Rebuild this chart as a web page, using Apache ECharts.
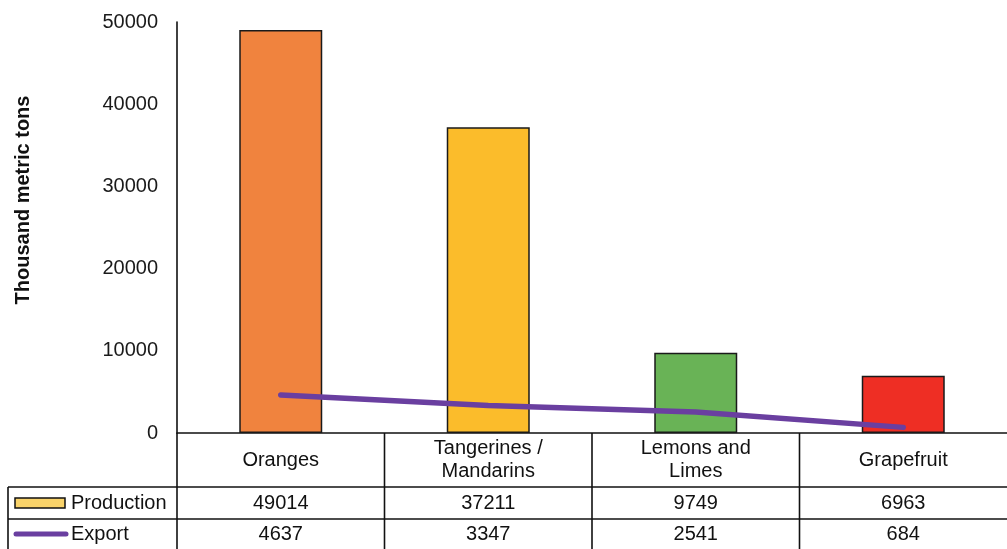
<!DOCTYPE html>
<html>
<head>
<meta charset="utf-8">
<script src="https://cdn.jsdelivr.net/npm/echarts@6/dist/echarts.min.js"></script>
<style>
  html, body { margin: 0; padding: 0; background: #fff; }
  #chart { width: 1007px; height: 549px; }
</style>
</head>
<body>
<div id="chart"></div>
<script>
// Citrus production and export, thousand metric tons
const categories = ['Oranges', 'Tangerines /\nMandarins', 'Lemons and\nLimes', 'Grapefruit'];
const production = [49014, 37211, 9749, 6963];
const exportValues = [4637, 3347, 2541, 684];
const yTicks = [0, 10000, 20000, 30000, 40000, 50000];

const barColors = ['#F0833E', '#FBBC2B', '#69B356', '#EE2E24'];
const lineColor = '#6A3FA0';
const fontFamily = '"Liberation Sans", Arial, sans-serif';

const chart = echarts.init(document.getElementById('chart'), null, { renderer: 'canvas' });

const gridLeft = 177, gridTop = 22, gridBottomY = 433, chartW = 1007, chartH = 549;

chart.setOption({
  animation: false,
  backgroundColor: '#fff',
  grid: { left: gridLeft, right: 0, top: gridTop, bottom: chartH - gridBottomY },
  xAxis: {
    type: 'category',
    data: categories,
    axisLine: { show: true, lineStyle: { color: '#111', width: 1.6 } },
    axisTick: { show: false },
    axisLabel: { show: false }
  },
  yAxis: {
    type: 'value',
    min: yTicks[0],
    max: yTicks[yTicks.length - 1],
    interval: yTicks[1] - yTicks[0],
    axisLine: { show: true, lineStyle: { color: '#111', width: 1.6 } },
    axisTick: { show: false },
    splitLine: { show: false },
    axisLabel: {
      color: '#1a1a1a', fontSize: 20, fontFamily: fontFamily, margin: 19,
      formatter: v => String(v)
    }
  },
  series: [
    {
      name: 'Production',
      type: 'bar',
      barWidth: '40%',
      data: production.map((v, i) => ({
        value: v,
        itemStyle: { color: barColors[i] }
      })),
      itemStyle: { borderColor: '#1a1a1a', borderWidth: 1.5 }
    },
    {
      name: 'Export',
      type: 'line',
      data: exportValues,
      symbol: 'none',
      lineStyle: { color: lineColor, width: 5.5, cap: 'round' },
      z: 5
    }
  ]
});

// Data table under the plot, built from the category axis positions
function buildTable() {
  const els = [];
  const lineStyle = { stroke: '#111', lineWidth: 1.6 };
  const tableLeft = 8;
  const row1Bottom = 487, row2Bottom = 519, tableBottom = chartH;
  const right = chartW;

  const centers = categories.map((c, i) => chart.convertToPixel({ xAxisIndex: 0 }, i));
  const step = centers.length > 1 ? centers[1] - centers[0] : (right - gridLeft);

  // horizontal rules
  els.push({ type: 'line', shape: { x1: tableLeft, y1: row1Bottom, x2: right, y2: row1Bottom }, style: lineStyle });
  els.push({ type: 'line', shape: { x1: tableLeft, y1: row2Bottom, x2: right, y2: row2Bottom }, style: lineStyle });
  // vertical rules
  els.push({ type: 'line', shape: { x1: tableLeft, y1: row1Bottom, x2: tableLeft, y2: tableBottom }, style: lineStyle });
  els.push({ type: 'line', shape: { x1: gridLeft, y1: gridBottomY, x2: gridLeft, y2: tableBottom }, style: lineStyle });
  centers.forEach((cx, i) => {
    if (i < centers.length - 1) {
      const bx = cx + step / 2;
      els.push({ type: 'line', shape: { x1: bx, y1: gridBottomY, x2: bx, y2: tableBottom }, style: lineStyle });
    }
  });

  const textBase = { fill: '#111', fontSize: 20, fontFamily: fontFamily, align: 'center', verticalAlign: 'middle' };
  const row1Mid = (gridBottomY + row1Bottom) / 2;
  const row2Mid = (row1Bottom + row2Bottom) / 2;
  const row3Mid = (row2Bottom + tableBottom) / 2;

  centers.forEach((cx, i) => {
    els.push({ type: 'text', x: cx, y: row1Mid, style: Object.assign({}, textBase, { text: categories[i], lineHeight: 23 }) });
    els.push({ type: 'text', x: cx, y: row2Mid, style: Object.assign({}, textBase, { text: String(production[i]) }) });
    els.push({ type: 'text', x: cx, y: row3Mid, style: Object.assign({}, textBase, { text: String(exportValues[i]) }) });
  });

  // legend keys in the table's first column
  els.push({ type: 'rect', shape: { x: 15, y: row2Mid - 5, width: 50, height: 10 }, style: { fill: '#F9D36A', stroke: '#111', lineWidth: 1.5 } });
  els.push({ type: 'text', x: 71, y: row2Mid, style: Object.assign({}, textBase, { text: 'Production', align: 'left' }) });
  els.push({ type: 'line', shape: { x1: 16, y1: row3Mid, x2: 66, y2: row3Mid }, style: { stroke: lineColor, lineWidth: 5, lineCap: 'round' } });
  els.push({ type: 'text', x: 71, y: row3Mid, style: Object.assign({}, textBase, { text: 'Export', align: 'left' }) });

  // y-axis title
  els.push({
    type: 'text', x: 23, y: 200, rotation: Math.PI / 2,
    style: { text: 'Thousand metric tons', fill: '#111', fontSize: 20, fontWeight: 'bold', fontFamily: fontFamily, align: 'center', verticalAlign: 'middle' }
  });

  chart.setOption({ graphic: { elements: els } });
}

buildTable();
</script>
</body>
</html>
